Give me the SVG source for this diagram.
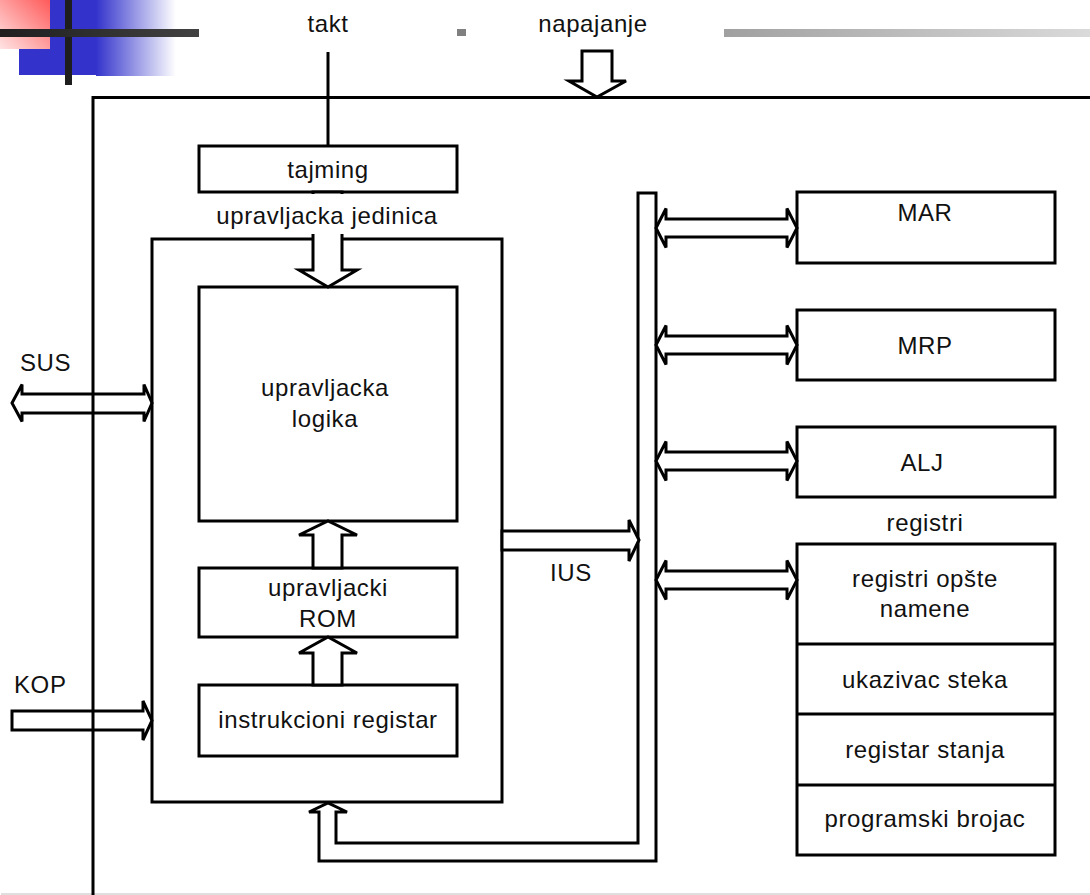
<svg xmlns="http://www.w3.org/2000/svg" width="1090" height="895" viewBox="0 0 1090 895">
  <defs>
    <linearGradient id="gPink" x1="1" y1="0" x2="0" y2="1">
      <stop offset="0" stop-color="#ff5a5a"/>
      <stop offset="1" stop-color="#ffe4e4"/>
    </linearGradient>
    <linearGradient id="gBlue" x1="0" y1="0" x2="1" y2="0">
      <stop offset="0" stop-color="#3333cc"/>
      <stop offset="1" stop-color="#ffffff"/>
    </linearGradient>
    <linearGradient id="gDark" x1="0" y1="0" x2="1" y2="0">
      <stop offset="0" stop-color="#1e1e1e"/>
      <stop offset="1" stop-color="#424242"/>
    </linearGradient>
    <linearGradient id="gGray" x1="0" y1="0" x2="1" y2="0">
      <stop offset="0" stop-color="#a0a0a0"/>
      <stop offset="1" stop-color="#dadada"/>
    </linearGradient>
  </defs>
  <style>
    .box { fill: #fff; stroke: #000; stroke-width: 3; }
    .line { fill: none; stroke: #000; stroke-width: 3; }
    .arr { fill: #fff; stroke: #000; stroke-width: 3; stroke-linejoin: miter; }
    .arrOpen { fill: none; stroke: #000; stroke-width: 3; stroke-linejoin: miter; }
    text { font-family: "Liberation Sans", Arial, sans-serif; font-size: 24px; fill: #111; letter-spacing: 0.6px; }
    .c { text-anchor: middle; }
  </style>

  <rect width="1090" height="895" fill="#fff"/>

  <!-- title bar ornament -->
  <g id="ornament">
    <rect x="19" y="0" width="77" height="75" fill="#3333cc"/>
    <rect x="96" y="0" width="80" height="76" fill="url(#gBlue)"/>
    <rect x="0" y="0" width="50" height="49" fill="url(#gPink)"/>
    <rect x="65" y="0" width="7" height="85" fill="#1e1e1e"/>
    <rect x="0" y="29" width="199" height="8" fill="url(#gDark)"/>
    <rect x="457" y="29" width="9" height="7" fill="#808080"/>
    <rect x="724" y="29" width="366" height="8" fill="url(#gGray)"/>
  </g>

  <!-- processor frame -->
  <g id="frame">
    <line x1="93" y1="97.5" x2="1090" y2="97.5" class="line"/>
    <line x1="1" y1="894" x2="1090" y2="894" stroke="#d4d4d4" stroke-width="1.5"/>
  </g>

  <g id="tajming">
    <rect x="199" y="146" width="258" height="46" class="box"/>
    <text x="328" y="178" class="c">tajming</text>
  </g>

  <g id="upravljacka-jedinica">
    <rect x="152" y="239" width="350" height="563" class="box"/>
  </g>

  <g id="upravljacka-logika">
    <rect x="199" y="287" width="258" height="234" class="box"/>
    <text x="325" y="396" class="c">upravljacka</text>
    <text x="325" y="427" class="c">logika</text>
  </g>

  <g id="upravljacki-rom">
    <rect x="199" y="568" width="258" height="69" class="box"/>
    <text x="328" y="596" class="c">upravljacki</text>
    <text x="328" y="627" class="c">ROM</text>
  </g>

  <g id="instrukcioni-registar">
    <rect x="199" y="685" width="258" height="71" class="box"/>
    <text x="328" y="728" class="c">instrukcioni registar</text>
  </g>

  <g id="mar">
    <rect x="797" y="192" width="258" height="71" class="box"/>
    <text x="925" y="221" class="c">MAR</text>
  </g>

  <g id="mrp">
    <rect x="797" y="310" width="258" height="70" class="box"/>
    <text x="925" y="354" class="c">MRP</text>
  </g>

  <g id="alj">
    <rect x="797" y="427" width="258" height="70" class="box"/>
    <text x="922" y="471" class="c">ALJ</text>
  </g>

  <g id="registri">
    <text x="925" y="531" class="c">registri</text>
    <rect x="797" y="544" width="258" height="311" class="box"/>
    <line x1="797" y1="644" x2="1055" y2="644" class="line"/>
    <line x1="797" y1="714" x2="1055" y2="714" class="line"/>
    <line x1="797" y1="785" x2="1055" y2="785" class="line"/>
    <text x="925" y="587" class="c">registri opšte</text>
    <text x="925" y="617" class="c">namene</text>
    <text x="925" y="688" class="c">ukazivac steka</text>
    <text x="925" y="758" class="c">registar stanja</text>
    <text x="925" y="827" class="c">programski brojac</text>
  </g>

  <g id="connectors">
    <!-- clock input -->
    <line x1="328" y1="52" x2="328" y2="146" class="line"/>
    <!-- power input -->
    <polygon class="arr" points="582,51 612,51 612,81 626,81 597,97 569,81 582,81"/>
    <!-- timing to control logic -->
    <polygon class="arr" points="313,192 313,270 299,270 328,287 357,270 342,270 342,192"/>
    <!-- ROM to control logic -->
    <polygon class="arr" points="313,568 313,535 299,535 328,521 357,535 342,535 342,568"/>
    <!-- instruction register to ROM -->
    <polygon class="arr" points="313,685 313,653 299,653 328,637 357,653 342,653 342,685"/>
    <!-- internal bus with feedback into the control unit -->
    <polygon class="arr" points="638,193 656,193 656,861 319,861 319,812 309,812 328,803 347,812 336,812 336,843 638,843"/>
    <!-- control logic onto internal bus -->
    <polygon class="arr" points="502,531 629,531 629,520 639,540 629,561 629,550 502,550"/>
    <!-- bus to MAR / MRP / ALJ / registri -->
    <polygon class="arr" points="656,228 666,208.5 666,219 787,219 787,208.5 797,228 787,247.5 787,237 666,237 666,247.5"/>
    <polygon class="arr" points="656,345 666,325.5 666,336 787,336 787,325.5 797,345 787,364.5 787,354 666,354 666,364.5"/>
    <polygon class="arr" points="656,461 666,441.5 666,452 787,452 787,441.5 797,461 787,480.5 787,470 666,470 666,480.5"/>
    <polygon class="arr" points="656,580 666,560.5 666,571 787,571 787,560.5 797,580 787,599.5 787,589 666,589 666,599.5"/>
    <!-- system bus -->
    <polygon class="arrOpen" points="12,403 22,384.5 22,394 144,394 144,384.5 152,403 144,421.5 144,413 22,413 22,421.5"/>
    <!-- opcode input -->
    <polygon class="arrOpen" points="12,711 143,711 143,701 152,720.5 143,740 143,730 12,730"/>
    <!-- frame left edge -->
    <line x1="93" y1="96" x2="93" y2="895" class="line"/>
  </g>

  <!-- labels -->
  <g id="labels">
    <text x="328" y="32" class="c">takt</text>
    <text x="593" y="32" class="c">napajanje</text>
    <rect x="205" y="194" width="245" height="40" fill="#fff"/>
    <text x="327" y="224" class="c">upravljacka jedinica</text>
    <text x="571" y="581" class="c">IUS</text>
    <text x="20" y="371">SUS</text>
    <text x="14" y="693">KOP</text>
  </g>
</svg>
